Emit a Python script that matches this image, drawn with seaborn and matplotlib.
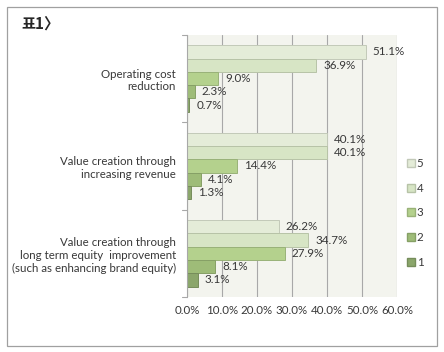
import pandas as pd
import numpy as np
from matplotlib import pyplot as plt
from matplotlib.patches import Rectangle
from matplotlib.lines import Line2D
import matplotlib.colors as mcolors
import seaborn as sns

categories = ['Operating cost\nreduction',
              'Value creation through\nincreasing revenue',
              'Value creation through\nlong term equity  improvement\n(such as enhancing brand equity)']
levels = ['5', '4', '3', '2', '1']
score5 = [51.1, 40.1, 26.2]
score4 = [36.9, 40.1, 34.7]
score3 = [9.0, 14.4, 27.9]
score2 = [2.3, 4.1, 8.1]
score1 = [0.7, 1.3, 3.1]
xticks = [0, 10, 20, 30, 40, 50, 60]
colors = ['#e4ecd8', '#d7e5c5', '#b4d18d', '#9ebc78', '#8ba66b']

rows = []
for lvl, vals in zip(levels, [score5, score4, score3, score2, score1]):
    for cat, v in zip(categories, vals):
        rows.append({'category': cat, 'level': lvl, 'value': v})
df = pd.DataFrame(rows)

sns.set_style('white')
plt.rcParams['font.family'] = ['Lato', 'Noto Sans CJK KR', 'DejaVu Sans']

fig = plt.figure(figsize=(4.44, 3.52), dpi=100)
ax = fig.add_axes([0.421, 0.156, 0.473, 0.745])

sns.barplot(data=df, y='category', x='value', hue='level', hue_order=levels,
            order=categories, palette=colors, width=0.76, ax=ax, legend=False,
            saturation=1)

# darker outline per series, labels at bar end
for cont, c in zip(ax.containers, colors):
    edge = tuple(np.array(mcolors.to_rgb(c)) * 0.85)
    for p in cont:
        p.set_edgecolor(edge)
        p.set_linewidth(0.7)
    ax.bar_label(cont, fmt='%.1f%%', padding=5, fontsize=8.4, color='#383838')

ax.set_facecolor('#f3f4ee')
ax.set_xlim(0, 60)
ax.set_xticks(xticks)
ax.set_xticklabels([f'{t:.1f}%' for t in xticks], fontsize=8.3, color='#383838')
ax.tick_params(axis='x', length=0, pad=6)
ax.xaxis.grid(True, color='#a8a8a8', linewidth=0.8)
ax.set_axisbelow(True)

ax.set_ylim(2.5, -0.5)
ax.set_yticks([0, 1, 2])
ax.set_yticklabels(categories, fontsize=8.3, color='#383838')
ax.tick_params(axis='y', length=0, pad=8)
for yb in [-0.5, 0.5, 1.5, 2.5]:
    ax.plot([-1.3, 0], [yb, yb], color='#a8a8a8', linewidth=0.8, clip_on=False)
ax.set_xlabel('')
ax.set_ylabel('')
for s in ['top', 'right', 'bottom']:
    ax.spines[s].set_visible(False)
ax.spines['left'].set_color('#a8a8a8')
ax.spines['left'].set_linewidth(0.8)

handles = [Line2D([], [], marker='s', linestyle='', markersize=6,
                  markerfacecolor=c, markeredgecolor=tuple(np.array(mcolors.to_rgb(c)) * 0.85))
           for c in colors]
fig.legend(handles, levels, loc='upper left', bbox_to_anchor=(0.905, 0.565),
           frameon=False, fontsize=8.3, labelspacing=1.2, handletextpad=0.1,
           handlelength=0.8, borderaxespad=0, labelcolor='#383838')

fig.text(0.048, 0.918, '표1〉', fontsize=11, fontweight='bold',
         family=['Noto Sans CJK KR', 'DejaVu Sans'])
fig.patches.append(Rectangle((0.016, 0.018), 0.968, 0.962, transform=fig.transFigure,
                             fill=False, edgecolor='#a0a0a0', linewidth=0.9))

fig.savefig('out.png', dpi=100)
